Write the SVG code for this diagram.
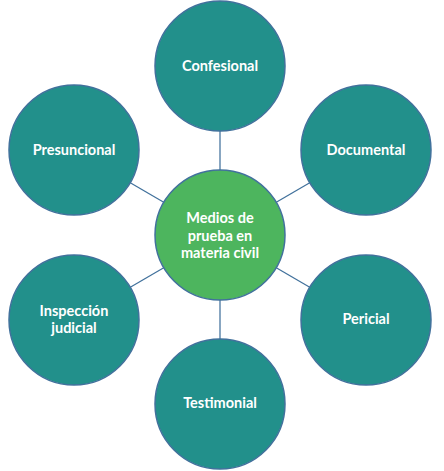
<svg xmlns="http://www.w3.org/2000/svg" width="444" height="471" viewBox="0 0 444 471">
<style>
.c{stroke:#41719C;stroke-width:1.5}
.o{fill:#22908B}
.m{fill:#4DB55E}
.t{font-family:Lato,"Open Sans",sans-serif;font-weight:bold;font-size:14.5px;fill:#FFFFFF;text-anchor:middle}
.l{stroke:#41719C;stroke-width:1.25;fill:none}
</style>
<rect width="444" height="471" fill="#FFFFFF"/>
<g id="connectors">
<line class="l" x1="220" y1="235" x2="220" y2="66"/>
<line class="l" x1="220" y1="235" x2="366" y2="150"/>
<line class="l" x1="220" y1="235" x2="366" y2="320"/>
<line class="l" x1="220" y1="235" x2="220" y2="404"/>
<line class="l" x1="220" y1="235" x2="74" y2="320"/>
<line class="l" x1="220" y1="235" x2="74" y2="150"/>
</g>
<g id="center">
<circle class="c m" cx="220" cy="235" r="65"/>
<text class="t" x="220" y="223">Medios de</text>
<text class="t" x="220" y="240.5">prueba en</text>
<text class="t" x="220" y="258">materia civil</text>
</g>
<g id="confesional">
<circle class="c o" cx="220" cy="66" r="65"/>
<text class="t" x="220" y="71">Confesional</text>
</g>
<g id="documental">
<circle class="c o" cx="366" cy="150" r="65"/>
<text class="t" x="366" y="155">Documental</text>
</g>
<g id="pericial">
<circle class="c o" cx="366" cy="320" r="65"/>
<text class="t" x="366" y="324">Pericial</text>
</g>
<g id="testimonial">
<circle class="c o" cx="220" cy="404" r="65"/>
<text class="t" x="220" y="408">Testimonial</text>
</g>
<g id="inspeccion">
<circle class="c o" cx="74" cy="320" r="65"/>
<text class="t" x="74" y="315.5">Inspección</text>
<text class="t" x="74" y="332.5">judicial</text>
</g>
<g id="presuncional">
<circle class="c o" cx="74" cy="150" r="65"/>
<text class="t" x="74" y="155">Presuncional</text>
</g>
</svg>
